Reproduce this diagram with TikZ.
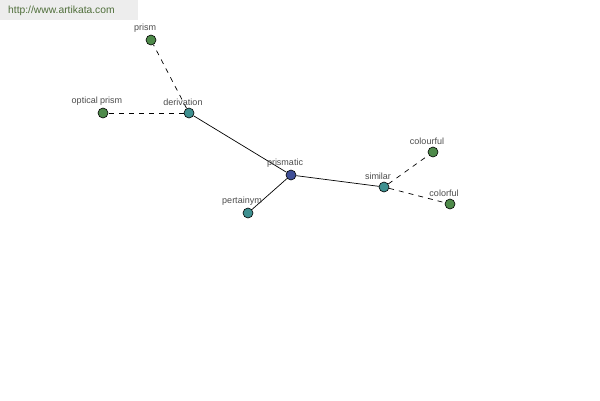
\documentclass[tikz,border=0pt]{standalone}
\usepackage{fontspec}
\setmainfont{Liberation Sans}
\usetikzlibrary{positioning}
\definecolor{leafgreen}{HTML}{4E8A4A}
\definecolor{relteal}{HTML}{3E9090}
\definecolor{rootblue}{HTML}{3E4E96}
\definecolor{sitegreen}{HTML}{4F6E3A}
\tikzset{
    word/.style={circle, draw=black, line width=0.6pt, minimum size=10pt, inner sep=0pt},
    lbl/.style={font=\fontsize{9}{10}\selectfont, text=black!70, inner sep=1pt, xshift=-6pt},
    rel/.style={line width=0.7pt, dash pattern=on 5pt off 5pt},
    link/.style={line width=0.7pt}
}
\begin{document}
\begin{tikzpicture}[x=1pt, y=-1pt]
    \useasboundingbox[fill=white] (0,0) rectangle (600,400);
    \fill[black!7] (0,0) rectangle (138,20);
    \node[anchor=west, text=sitegreen, font=\fontsize{10.3}{12}\selectfont, inner sep=0pt] (site) at (8,11) {http://www.artikata.com};

    \node[word, fill=rootblue] (prismatic) at (291,175) {};
    \node[word, fill=relteal] (derivation) at (189,113) {};
    \node[word, fill=relteal] (similar) at (384,187) {};
    \node[word, fill=relteal] (pertainym) at (248,213) {};
    \node[word, fill=leafgreen] (prism) at (151,40) {};
    \node[word, fill=leafgreen] (optical) at (103,113) {};
    \node[word, fill=leafgreen] (colourful) at (433,152) {};
    \node[word, fill=leafgreen] (colorful) at (450,204) {};

    \draw[link] (derivation) -- (prismatic);
    \draw[link] (prismatic) -- (pertainym);
    \draw[link] (prismatic) -- (similar);
    \draw[rel] (derivation) -- (prism);
    \draw[rel] (derivation) -- (optical);
    \draw[rel] (similar) -- (colourful);
    \draw[rel] (similar) -- (colorful);

    \node[lbl, above=1pt of prism] (prismlbl) {prism};
    \node[lbl, above=1pt of optical] (opticallbl) {optical prism};
    \node[lbl, above=1pt of derivation] (derivationlbl) {derivation};
    \node[lbl, above=1pt of prismatic] (prismaticlbl) {prismatic};
    \node[lbl, above=1pt of similar] (similarlbl) {similar};
    \node[lbl, above=1pt of pertainym] (pertainymlbl) {pertainym};
    \node[lbl, above=1pt of colourful] (colourfullbl) {colourful};
    \node[lbl, above=1pt of colorful] (colorfullbl) {colorful};
\end{tikzpicture}
\end{document}
